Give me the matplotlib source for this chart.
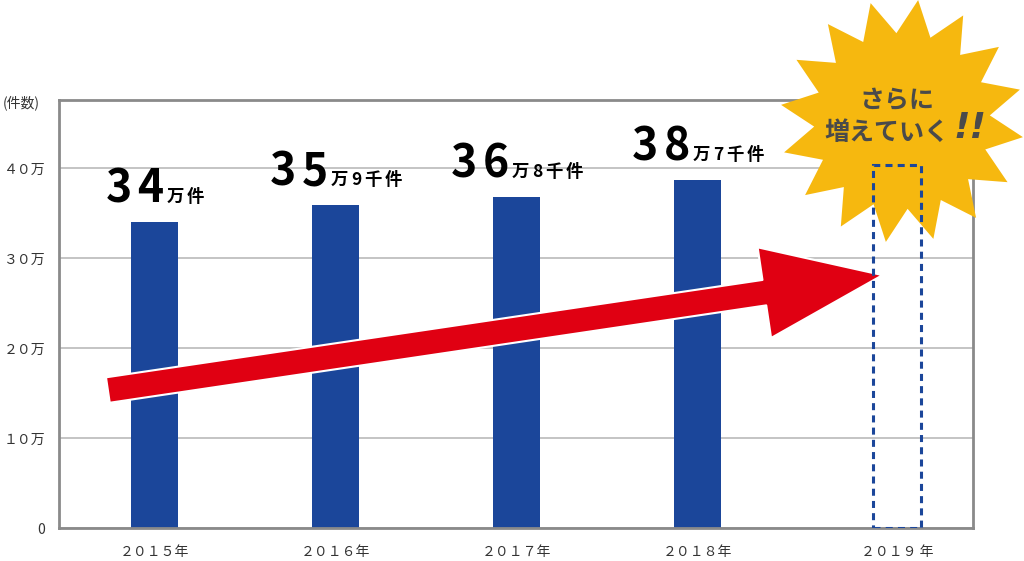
import matplotlib
matplotlib.use('Agg')
import matplotlib.pyplot as plt
from matplotlib.offsetbox import TextArea, HPacker, AnnotationBbox
from matplotlib.patches import FancyArrowPatch, Polygon
import numpy as np

plt.rcParams['font.family'] = ['Noto Sans CJK JP', 'DejaVu Sans']

# ---- data ----
years = ['２０１５年', '２０１６年', '２０１７年', '２０１８年', '２０１９ 年']
x_pos = [0, 1, 2, 3, 4.1]
values = [34.0, 35.9, 36.8, 38.7]          # 万件
forecast = 40.3                             # dashed 2019 box
label_major = ['34', '35', '36', '38']
label_minor = ['万件', '万9千件', '万8千件', '万7千件']
yticks = [0, 10, 20, 30, 40]
ytick_labels = ['0', '１０万', '２０万', '３０万', '４０万']

BLUE = '#1B469A'
RED = '#E00012'
YELLOW = '#F6B80F'
W, H = 1024, 561

fig = plt.figure(figsize=(W / 100, H / 100), dpi=100)
ax = fig.add_axes([59 / W, 33 / H, 914 / W, 428 / H])
ax.set_xlim(-0.53, 4.52)
ax.set_ylim(0, 47.56)

ax.bar(x_pos[:4], values, width=0.26, color=BLUE, zorder=2)
ax.bar(x_pos[4], forecast, width=0.26, fill=False, edgecolor=BLUE,
       linestyle=(0, (2.3, 1.7)), linewidth=2.2, zorder=5)

ax.set_yticks(yticks, ytick_labels)
ax.set_xticks(x_pos, years)
ax.yaxis.grid(True, color='#c4c4c4', lw=1.4, zorder=0.5)
ax.set_axisbelow(True)
ax.tick_params(axis='y', length=0, pad=10, labelsize=10, labelcolor='#333333')
ax.tick_params(axis='x', length=0, pad=12, labelsize=10, labelcolor='#333333')
for s in ax.spines.values():
    s.set_color('#8a8a8a')
    s.set_linewidth(2)

fig.text(3 / W, 1 - 103 / H, '(件数)', ha='left', va='center',
         fontsize=10, color='#333333')

# value labels
for x, v, big, small in zip(x_pos, values, label_major, label_minor):
    bigs = [TextArea(c, textprops=dict(fontsize=32, fontweight='bold', color='black'))
            for c in big]
    smalls = [TextArea(c, textprops=dict(fontsize=12.5, fontweight='bold', color='black'))
              for c in small]
    pk = HPacker(children=[HPacker(children=bigs, sep=4, pad=0, align='baseline'),
                           HPacker(children=smalls, sep=2, pad=0, align='baseline')],
                 sep=2, pad=0, align='baseline')
    ab = AnnotationBbox(pk, (x, v), xybox=(0, 7), xycoords='data',
                        boxcoords='offset points', box_alignment=(0.5, 0),
                        frameon=False, pad=0, zorder=6)
    ax.add_artist(ab)

# red arrow
arrow = FancyArrowPatch((-0.26, 15.33), (4.02, 28.1),
                        arrowstyle='simple,head_length=86,head_width=66,tail_width=18.5',
                        mutation_scale=1, shrinkA=0, shrinkB=0,
                        facecolor=RED, edgecolor='white', lw=1.5, zorder=3)
ax.add_patch(arrow)

# starburst
cx, cy = 902, 121
n = 16
ang0 = np.deg2rad(82.4)
pts = []
for k in range(2 * n):
    a = ang0 + k * np.pi / n
    r = 122 if k % 2 == 0 else 88
    px = cx + r * np.cos(a)
    py = cy - r * np.sin(a)
    pts.append((px / W, 1 - py / H))
star = Polygon(pts, closed=True, facecolor=YELLOW, edgecolor='none',
               transform=fig.transFigure, clip_on=False, zorder=4)
ax.add_patch(star)

fig.text(897 / W, 1 - 101 / H, 'さらに', ha='center', va='center',
         fontsize=18, fontweight='bold', color='#4a4a4a')
fig.text(887 / W, 1 - 133 / H, '増えていく', ha='center', va='center',
         fontsize=18, fontweight='bold', color='#4a4a4a')
fig.text(970 / W, 1 - 128 / H, '!!', ha='center', va='center',
         fontsize=26, fontweight='bold', fontstyle='italic', color='#4a4a4a',
         family=['DejaVu Sans'])

fig.savefig('out.png', dpi=100)
